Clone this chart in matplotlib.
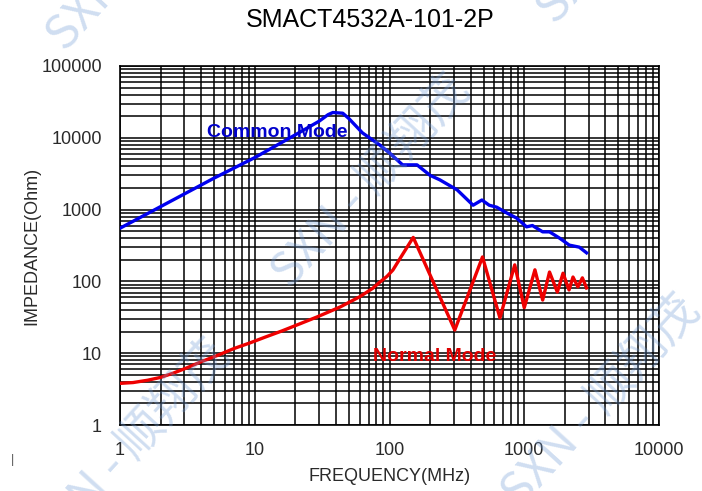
import numpy as np
import matplotlib
matplotlib.use('Agg')
import matplotlib.pyplot as plt
from matplotlib.ticker import FixedLocator, FixedFormatter, LogLocator, NullFormatter

title = 'SMACT4532A-101-2P'

# common mode impedance
cm_freq = [1, 2, 3, 5, 10, 20, 30, 35, 38, 45, 50, 63, 85, 100, 125, 160,
           200, 236, 318, 417, 485, 550, 625, 740, 880, 1040, 1150, 1370,
           1540, 1830, 2160, 2560, 2900]
cm_imp = [550, 1100, 1650, 2750, 5300, 11000, 17000, 21000, 22500, 22000,
          18500, 11700, 7900, 6150, 4200, 4200, 3000, 2600, 1880, 1150,
          1360, 1150, 1080, 900, 760, 575, 600, 490, 490, 400, 320, 300, 250]

# normal mode impedance
nm_freq = [1, 1.25, 1.6, 2, 2.5, 3.1, 4, 5.2, 7, 9.2, 12, 16, 22, 29, 43,
           60, 75, 85, 96, 106, 120, 150, 305, 490, 660, 850, 1000, 1200,
           1370, 1540, 1760, 1940, 2150, 2300, 2500, 2700, 2900]
nm_imp = [3.8, 3.9, 4.2, 4.6, 5.3, 6.2, 7.6, 9.2, 11.6, 13.9, 16.8, 20.5,
          26, 32, 44, 61, 80, 98, 118, 144, 210, 410, 21, 219, 31, 170, 43,
          145, 55, 135, 71, 130, 76, 115, 84, 112, 81]

x_ticks = [1, 10, 100, 1000, 10000]
y_ticks = [1, 10, 100, 1000, 10000, 100000]

plt.rcParams['font.family'] = ['Liberation Sans', 'DejaVu Sans']

fig = plt.figure(figsize=(7.02, 4.91), dpi=100)
ax = fig.add_axes([120/702, 66/491, 539/702, 359/491])

ax.set_xscale('log')
ax.set_yscale('log')
ax.set_xlim(1, 10000)
ax.set_ylim(1, 100000)

ax.xaxis.set_major_locator(FixedLocator(x_ticks))
ax.xaxis.set_major_formatter(FixedFormatter([str(v) for v in x_ticks]))
ax.yaxis.set_major_locator(FixedLocator(y_ticks))
ax.yaxis.set_major_formatter(FixedFormatter([str(v) for v in y_ticks]))
ax.xaxis.set_minor_locator(LogLocator(base=10, subs=np.arange(2, 10)))
ax.yaxis.set_minor_locator(LogLocator(base=10, subs=np.arange(2, 10)))
ax.xaxis.set_minor_formatter(NullFormatter())
ax.yaxis.set_minor_formatter(NullFormatter())
ax.tick_params(which='both', length=0, labelsize=13, colors='#2a2a2a')
ax.tick_params(axis='y', pad=13)
ax.tick_params(axis='x', pad=12)

ax.grid(True, which='both', color='black', linewidth=1.1)
ax.set_axisbelow(True)
for s in ax.spines.values():
    s.set_color('black')
    s.set_linewidth(1.2)

ax.plot(cm_freq, cm_imp, color='#0000ee', linewidth=2.4, zorder=3)
ax.plot(nm_freq, nm_imp, color='#ee0000', linewidth=2.4, zorder=3)

ax.text(4.4, 11800, 'Common Mode', color='#0000cc', fontsize=14,
        fontweight='bold', va='center', ha='left')
ax.text(216, 8.9, 'Normal Mode', color='#dd0000', fontsize=14,
        fontweight='bold', va='center', ha='center')

fig.text(370/702, 1 - 20/491, title, fontsize=18, ha='center', va='center')
ax.set_xlabel('FREQUENCY(MHz)', fontsize=13, labelpad=7, color='#2a2a2a')
ax.set_ylabel('IMPEDANCE(Ohm)', fontsize=13, labelpad=1, color='#2a2a2a')
fig.text(12/702, 1 - 460/491, '|', fontsize=9, color='#555555',
         ha='center', va='center')

# watermarks
wm = 'SXN - 顺翔茂'
for cx, cy in [(372, 182), (132, 447), (602, 402), (147, -55), (637, -82)]:
    fig.text(cx/702, 1 - cy/491, wm, fontsize=34, rotation=47.5,
             color='#6f9ad4', alpha=0.33, ha='center', va='center',
             rotation_mode='anchor', family=['Noto Sans CJK SC', 'DejaVu Sans'],
             zorder=10)

fig.savefig('out.png', dpi=100)
